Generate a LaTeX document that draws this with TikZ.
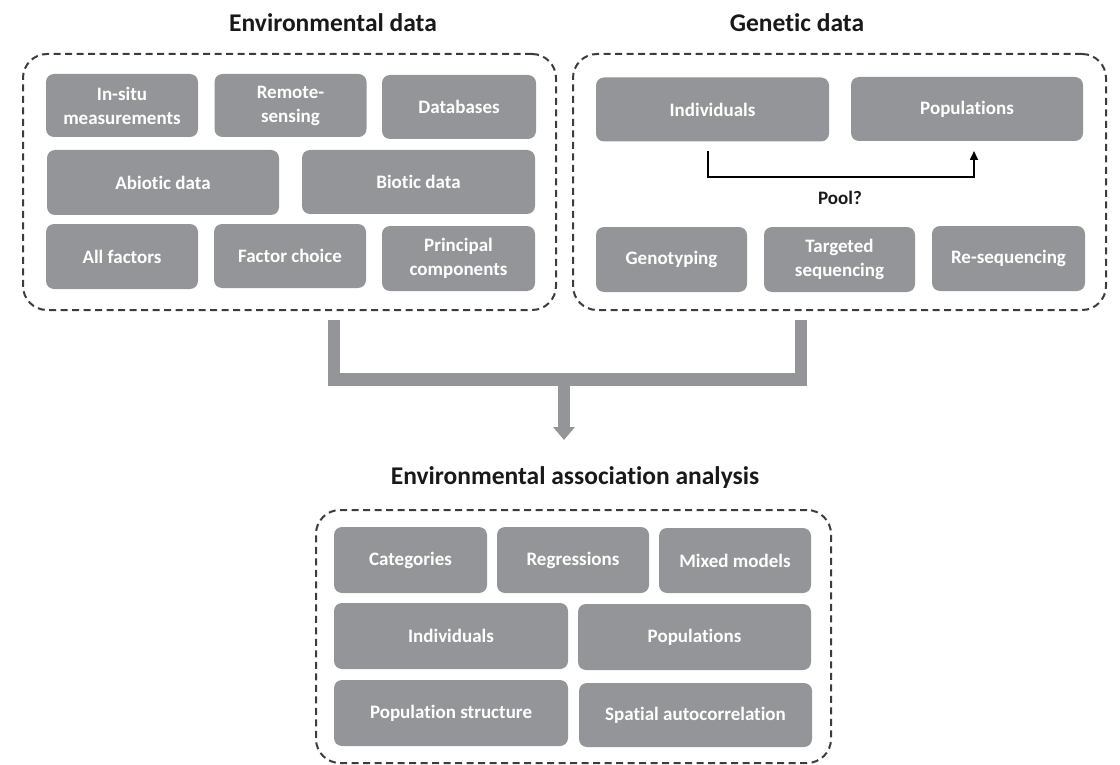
\documentclass[tikz,border=0pt]{standalone}
\usepackage{fontspec}
\setmainfont{Carlito}[Ligatures=NoCommon]
\usetikzlibrary{arrows.meta}

\definecolor{boxgray}{RGB}{147,149,152}
\definecolor{framegray}{RGB}{60,60,62}
\definecolor{titleblack}{RGB}{25,25,25}

\tikzset{
  gbox/.style={fill=boxgray, rounded corners=8pt, text=white, align=center,
    inner sep=0pt, font=\bfseries\fontsize{19}{24}\selectfont},
  frame/.style={draw=framegray, line width=2pt, dash pattern=on 7pt off 4.5pt,
    rounded corners=24pt, inner sep=0pt},
  ttl/.style={text=titleblack, font=\bfseries\fontsize{25.5}{30}\selectfont, inner sep=0pt},
  poollabel/.style={text=titleblack, font=\bfseries\fontsize{19}{24}\selectfont, inner sep=0pt},
  tube/.style={draw=boxgray, line width=12.5pt, line join=miter, line cap=butt},
  poolarrow/.style={draw=black, line width=1.6pt, -{Triangle[width=8pt,length=9pt]}}
}

\begin{document}
\begin{tikzpicture}[x=1pt, y=-1pt]
\useasboundingbox (0,0) rectangle (1120,765);

% ---- titles
\node[ttl] (envtitle) at (333,23) {Environmental data};
\node[ttl] (gentitle) at (797,23) {Genetic data};
\node[ttl] (eaatitle) at (575,478) {Environmental association analysis};

% ---- dashed frames
\node[frame, minimum width=533pt, minimum height=256pt] (envframe) at (289.5,182) {};
\node[frame, minimum width=533pt, minimum height=256pt] (genframe) at (839.5,182) {};
\node[frame, minimum width=515pt, minimum height=253pt] (eaaframe) at (573.5,636.5) {};

% ---- environmental data
\node[gbox, minimum width=152pt, minimum height=63pt] (insitu) at (122,105.5) {In-situ\\measurements};
\node[gbox, minimum width=152pt, minimum height=63pt] (remote) at (290.5,105.5) {Remote-\\sensing};
\node[gbox, minimum width=154pt, minimum height=64pt] (databases) at (459,107) {Databases};
\node[gbox, minimum width=232pt, minimum height=65pt] (abiotic) at (163,182.5) {Abiotic data};
\node[gbox, minimum width=233pt, minimum height=64pt] (biotic) at (418.5,182) {Biotic data};
\node[gbox, minimum width=152pt, minimum height=65pt] (allfactors) at (122,256.5) {All factors};
\node[gbox, minimum width=152pt, minimum height=64pt] (factorchoice) at (290,256) {Factor choice};
\node[gbox, minimum width=153pt, minimum height=65pt] (principal) at (458.5,258.5) {Principal\\components};

% ---- genetic data
\node[gbox, minimum width=233pt, minimum height=64pt] (gindiv) at (712.5,109.5) {Individuals};
\node[gbox, minimum width=232pt, minimum height=64pt] (gpopul) at (967,109) {Populations};
\node[gbox, minimum width=151pt, minimum height=65pt] (genotyping) at (671.5,259.5) {Genotyping};
\node[gbox, minimum width=151pt, minimum height=65pt] (targeted) at (839.5,259.5) {Targeted\\sequencing};
\node[gbox, minimum width=153pt, minimum height=65pt] (reseq) at (1008.5,258.5) {Re-sequencing};

% pooling individuals into populations
\coordinate (poolstart) at (708,151);
\coordinate (poolend) at (974,151);
\coordinate (poolbase) at (841,177);
\draw[poolarrow] (poolstart) |- (poolbase) -| (poolend);
\node[poollabel] (pool) at (840,198) {Pool?};

% ---- environmental association analysis
\node[gbox, minimum width=153pt, minimum height=66pt] (categories) at (410.5,560) {Categories};
\node[gbox, minimum width=152pt, minimum height=66pt] (regressions) at (573,560) {Regressions};
\node[gbox, minimum width=152pt, minimum height=65pt] (mixed) at (735,560.5) {Mixed models};
\node[gbox, minimum width=234pt, minimum height=66pt] (aindiv) at (451,636) {Individuals};
\node[gbox, minimum width=233pt, minimum height=66pt] (apopul) at (694.5,637) {Populations};
\node[gbox, minimum width=234pt, minimum height=66pt] (popstruct) at (451,713) {Population structure};
\node[gbox, minimum width=233pt, minimum height=64pt] (spatial) at (695.5,715) {Spatial autocorrelation};

% ---- merging connector
\coordinate (junction) at (564,379.5);
\coordinate (arrowend) at (564,440);
\draw[tube] ([xshift=44.5pt,yshift=-9pt]envframe.south) |- (junction)
            -| ([xshift=-38.5pt,yshift=-9pt]genframe.south);
\draw[tube, -{Triangle[width=21pt,length=13pt]}] (junction) -- (arrowend);
\end{tikzpicture}
\end{document}
